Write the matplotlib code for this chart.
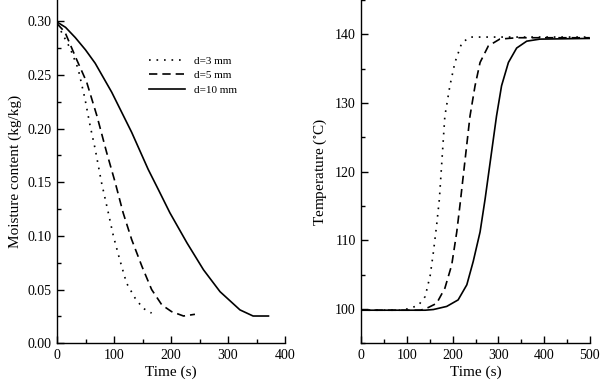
import numpy as np
import matplotlib
matplotlib.use("Agg")
import matplotlib.pyplot as plt
from matplotlib.ticker import MultipleLocator

plt.rcParams['font.family'] = ['Liberation Serif', 'DejaVu Serif']
plt.rcParams['mathtext.fontset'] = 'stix'

# moisture content (kg/kg) vs time (s)
t_m3 = [0, 8, 23, 37, 49, 58, 67, 78, 90, 99, 110, 122, 137, 151, 166]
m_3 = [0.297, 0.290, 0.275, 0.256, 0.228, 0.203, 0.181, 0.150, 0.1216, 0.0997,
       0.078, 0.056, 0.042, 0.0325, 0.028]

t_m5 = [0, 14, 34, 52, 70, 87, 102, 116, 131, 149, 166, 184, 201, 222, 242]
m_5 = [0.298, 0.290, 0.265, 0.2435, 0.212, 0.178, 0.150, 0.1216, 0.0966, 0.0716,
       0.050, 0.0356, 0.0294, 0.0253, 0.0269]

t_m10 = [0, 15, 32, 50, 67, 96, 131, 160, 178, 198, 228, 257, 286, 321, 344, 371]
m_10 = [0.2995, 0.2945, 0.285, 0.2735, 0.261, 0.234, 0.1966, 0.162, 0.143, 0.1216,
        0.0935, 0.0684, 0.048, 0.031, 0.0253, 0.0253]

# temperature (C) vs time (s)
t_T3 = [0, 90, 107, 125, 140, 151, 158, 165, 171, 183, 194, 205, 220, 238, 500]
T_3 = [99.8, 99.8, 100.1, 100.5, 101.8, 104.9, 108.3, 112.2, 116.0, 128.1,
       132.5, 135.9, 138.75, 139.6, 139.6]

t_T5 = [0, 130, 147, 165, 183, 198, 209, 216, 238, 249, 260, 278, 303, 340, 500]
T_5 = [99.8, 99.8, 100.2, 100.8, 103.0, 106.4, 111.2, 115.1, 128.1, 132.5,
       135.9, 138.3, 139.3, 139.5, 139.5]

t_T10 = [0, 140, 158, 187, 212, 231, 245, 260, 271, 296, 307, 322, 340, 362,
         391, 500]
T_10 = [99.8, 99.8, 99.9, 100.35, 101.3, 103.5, 106.9, 111.2, 116.0, 128.1,
        132.5, 135.9, 138.0, 139.0, 139.3, 139.4]

labels = ['d=3 mm', 'd=5 mm', 'd=10 mm']
styles = [(0, (1, 3.5)), (0, (5, 3)), '-']


def style_axes(ax):
    for side in ('top', 'right'):
        ax.spines[side].set_visible(False)
    for side in ('left', 'bottom'):
        ax.spines[side].set_linewidth(1.0)
    ax.tick_params(which='both', direction='in', top=False, right=False,
                   labelsize=10, pad=4)
    ax.tick_params(which='major', length=5, width=1)
    ax.tick_params(which='minor', length=3, width=1)


fig = plt.figure(figsize=(6, 3.8), dpi=100)
ax1 = fig.add_axes([0.095, 0.097, 0.38, 0.903])
ax2 = fig.add_axes([0.602, 0.097, 0.381, 0.903])

for t, m, lab, ls in zip([t_m3, t_m5, t_m10], [m_3, m_5, m_10], labels, styles):
    ax1.plot(t, m, color='black', lw=1.2, ls=ls, label=lab)
ax1.set_xlim(0, 400)
ax1.set_ylim(0, 0.32)
ax1.xaxis.set_major_locator(MultipleLocator(100))
ax1.xaxis.set_minor_locator(MultipleLocator(50))
ax1.yaxis.set_major_locator(MultipleLocator(0.05))
ax1.yaxis.set_minor_locator(MultipleLocator(0.025))
ax1.yaxis.set_major_formatter(lambda v, p: f"{v:.2f}")
ax1.set_xlabel('Time (s)', fontsize=11, labelpad=3)
ax1.set_ylabel('Moisture content (kg/kg)', fontsize=11, labelpad=4)
style_axes(ax1)
ax1.legend(loc='upper left', bbox_to_anchor=(0.37, 0.86), frameon=False,
           fontsize=8, handlelength=3.25, handletextpad=0.75,
           labelspacing=0.45, borderpad=0.2)

for t, T, ls in zip([t_T3, t_T5, t_T10], [T_3, T_5, T_10], styles):
    ax2.plot(t, T, color='black', lw=1.2, ls=ls)
ax2.set_xlim(0, 500)
ax2.set_ylim(95, 145)
ax2.xaxis.set_major_locator(MultipleLocator(100))
ax2.xaxis.set_minor_locator(MultipleLocator(50))
ax2.yaxis.set_major_locator(MultipleLocator(10))
ax2.yaxis.set_minor_locator(MultipleLocator(5))
ax2.set_xlabel('Time (s)', fontsize=11, labelpad=3)
ax2.set_ylabel('Temperature ($^{\\circ}$C)', fontsize=11, labelpad=4)
style_axes(ax2)

fig.savefig('out.png', dpi=100)
